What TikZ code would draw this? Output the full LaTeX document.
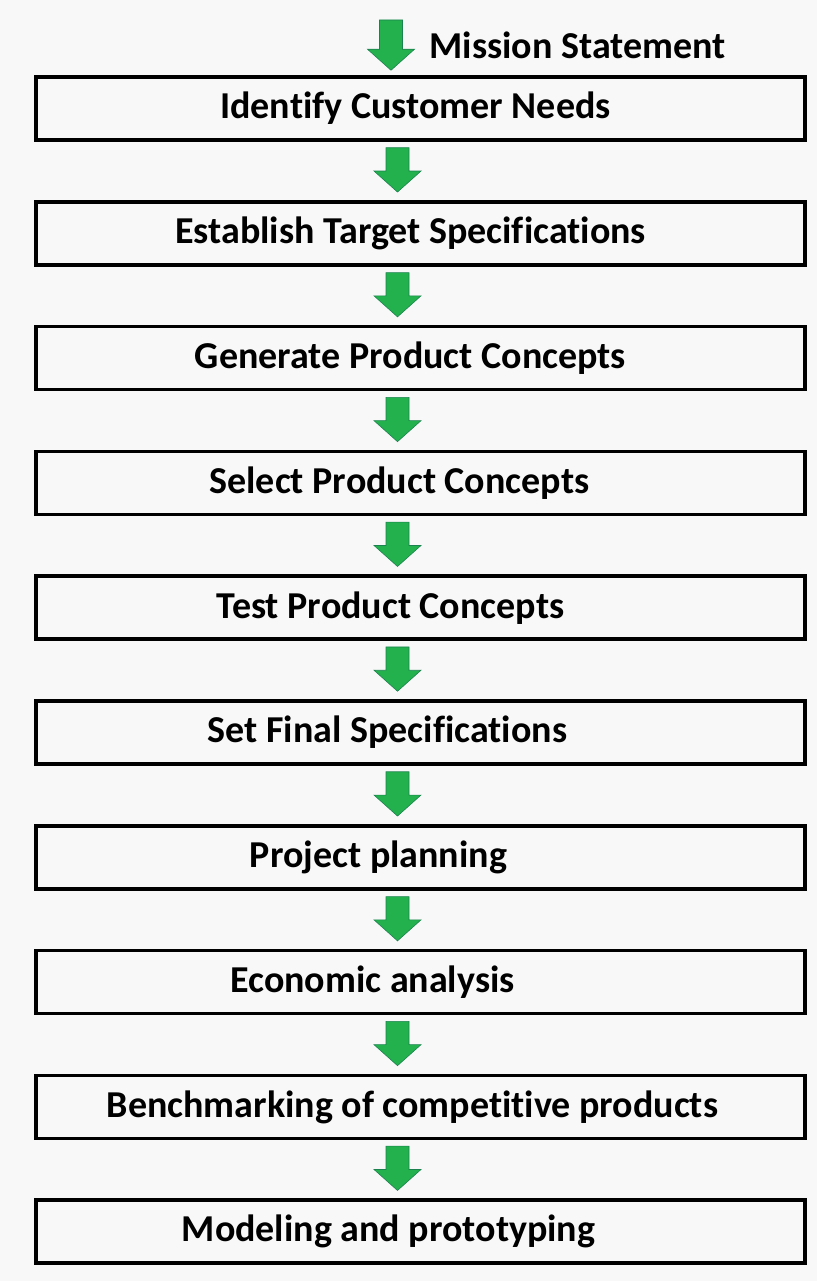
\documentclass[tikz,border=0pt]{standalone}
\usepackage{fontspec}
\setmainfont[Ligatures={NoCommon}]{Carlito}
\usetikzlibrary{calc,positioning}
\definecolor{arrowgreen}{RGB}{34,177,76}
\definecolor{arrowedge}{RGB}{28,130,80}
\definecolor{paper}{RGB}{248,248,248}
% block arrow from shaft top #1 to tip #2 (same x)
\newcommand\greenarrow[2]{%
\path[flowarrow] ($(#1)+(-11.5,0)$) -- ($(#2)+(-11.5,-21)$)
-- ($(#2)+(-23.5,-21)$) -- (#2) -- ($(#2)+(23.5,-21)$)
-- ($(#2)+(11.5,-21)$) -- ($(#1)+(11.5,0)$) -- cycle;}

\begin{document}
\begin{tikzpicture}[x=1pt,y=-1pt]
\tikzset{stage/.style={draw,line width=3.5pt,minimum width=769pt,
minimum height=63pt,inner sep=0pt,font=\fontsize{38}{42}\selectfont\bfseries}}
\tikzset{flowarrow/.style={fill=arrowgreen,draw=arrowedge,line width=0.6pt}}
\fill[paper] (0,0) rectangle (817,1281);
\useasboundingbox (0,0) rectangle (817,1281);
% second field: extra space on the right pushes the text left
\foreach \txt/\pad [count=\i] in {Identify Customer Needs/10,
Establish Target Specifications/20,Generate Product Concepts/20,
Select Product Concepts/42,Test Product Concepts/60,Set Final Specifications/66,
Project planning/84,Economic analysis/96,Benchmarking of competitive products/16,
Modeling and prototyping/64}
\node[stage] (b\i) at (420.5,{108.5+124.8*(\i-1)}) {\txt\hspace*{\pad pt}};
\node[anchor=west,font=\fontsize{38}{42}\selectfont\bfseries] (mission) at (426,45) {Mission Statement};
% arrows
\coordinate (ms) at (391,20);
\coordinate (mt) at ($(b1.north)+(-29.5,-5)$);
\greenarrow{ms}{mt}
\foreach \i [evaluate=\i as \j using int(\i+1)] in {1,...,9} {
\coordinate (s\i) at ($(b\i.south)+(-23,6)$);
\coordinate (e\i) at ($(b\j.north)+(-23,-8)$);
\greenarrow{s\i}{e\i}
}
\end{tikzpicture}
\end{document}
